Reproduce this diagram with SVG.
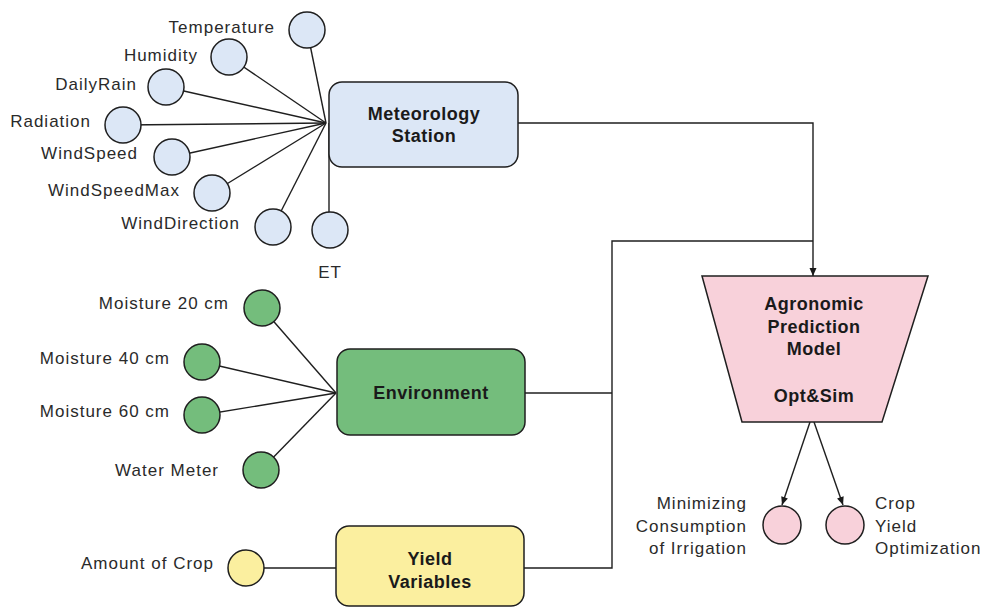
<svg xmlns="http://www.w3.org/2000/svg" width="984" height="608" viewBox="0 0 984 608">
<defs>
<marker id="arr" markerWidth="10" markerHeight="10" refX="9" refY="5" orient="auto" markerUnits="userSpaceOnUse">
<path d="M1,1.5 L9,5 L1,8.5 Z" fill="#1a1a1a"/>
</marker>
<style>
.bg{fill:#ffffff}
.ln{fill:none;stroke:#1f1f1f;stroke-width:1.4}
.nd{stroke:#1f1f1f;stroke-width:1.5}
.blue{fill:#dce7f6}
.green{fill:#74bd7c}
.yellow{fill:#fbef9f}
.pink{fill:#f8d1da}
.lbl{font-family:"Liberation Sans",Arial,sans-serif;font-size:17px;letter-spacing:1px;fill:#2a2a2a}
.end{text-anchor:end}
.bt{font-family:"Liberation Sans",Arial,sans-serif;font-size:18px;font-weight:bold;letter-spacing:0.5px;fill:#1a1a1a;text-anchor:middle}
</style>
</defs>
<rect class="bg" x="0" y="0" width="984" height="608"/>

<g id="connectors">
<line class="ln" x1="307" y1="30" x2="326" y2="123"/>
<line class="ln" x1="229" y1="57" x2="326" y2="123"/>
<line class="ln" x1="166" y1="87" x2="326" y2="123"/>
<line class="ln" x1="123" y1="125" x2="326" y2="123"/>
<line class="ln" x1="172" y1="157" x2="326" y2="123"/>
<line class="ln" x1="212" y1="193" x2="326" y2="123"/>
<line class="ln" x1="273" y1="227" x2="326" y2="123"/>
<line class="ln" x1="329" y1="230" x2="329" y2="123"/>
<line class="ln" x1="262" y1="308" x2="336" y2="393"/>
<line class="ln" x1="202" y1="362" x2="336" y2="393"/>
<line class="ln" x1="202" y1="415" x2="336" y2="393"/>
<line class="ln" x1="261" y1="470" x2="336" y2="393"/>
<line class="ln" x1="246" y1="568" x2="336" y2="568"/>
<polyline class="ln" points="518,123 813,123 813,276" marker-end="url(#arr)"/>
<line class="ln" x1="525" y1="393" x2="612" y2="393"/>
<polyline class="ln" points="524,568 612,568 612,241 813,241"/>
<line class="ln" x1="810" y1="422" x2="782" y2="505" marker-end="url(#arr)"/>
<line class="ln" x1="814" y1="422" x2="843" y2="505" marker-end="url(#arr)"/>
</g>

<g id="temperature"><circle class="nd blue" cx="307" cy="30" r="18"/><text class="lbl end" x="275" y="33">Temperature</text></g>
<g id="humidity"><circle class="nd blue" cx="229" cy="57" r="18"/><text class="lbl end" x="198" y="61">Humidity</text></g>
<g id="dailyrain"><circle class="nd blue" cx="166" cy="87" r="18"/><text class="lbl end" x="137" y="90">DailyRain</text></g>
<g id="radiation"><circle class="nd blue" cx="123" cy="125" r="18"/><text class="lbl end" x="91" y="127">Radiation</text></g>
<g id="windspeed"><circle class="nd blue" cx="172" cy="157" r="18"/><text class="lbl end" x="138" y="159">WindSpeed</text></g>
<g id="windspeedmax"><circle class="nd blue" cx="212" cy="193" r="18"/><text class="lbl end" x="180" y="196">WindSpeedMax</text></g>
<g id="winddirection"><circle class="nd blue" cx="273" cy="227" r="18"/><text class="lbl end" x="240" y="229">WindDirection</text></g>
<g id="et"><circle class="nd blue" cx="330" cy="230" r="18"/><text class="lbl" x="330" y="278" text-anchor="middle">ET</text></g>

<g id="meteorology"><rect class="nd blue" x="329" y="82" width="189" height="85" rx="13"/><text class="bt" x="424" y="120">Meteorology</text><text class="bt" x="424" y="142">Station</text></g>

<g id="moisture20"><circle class="nd green" cx="262" cy="308" r="18"/><text class="lbl end" x="229" y="309">Moisture 20 cm</text></g>
<g id="moisture40"><circle class="nd green" cx="202" cy="362" r="18"/><text class="lbl end" x="170" y="364">Moisture 40 cm</text></g>
<g id="moisture60"><circle class="nd green" cx="202" cy="415" r="18"/><text class="lbl end" x="170" y="417">Moisture 60 cm</text></g>
<g id="watermeter"><circle class="nd green" cx="261" cy="470" r="18"/><text class="lbl end" x="219" y="476">Water Meter</text></g>

<g id="environment"><rect class="nd green" x="337" y="349" width="188" height="86" rx="13"/><text class="bt" x="431" y="399">Environment</text></g>

<g id="amountofcrop"><circle class="nd yellow" cx="246" cy="568" r="18"/><text class="lbl end" x="214" y="569">Amount of Crop</text></g>

<g id="yield"><rect class="nd yellow" x="336" y="526" width="188" height="80" rx="13"/><text class="bt" x="430" y="565">Yield</text><text class="bt" x="430" y="588">Variables</text></g>

<g id="model"><polygon class="nd pink" points="702,276 928,276 882,422 742,422"/><text class="bt" x="814" y="310">Agronomic</text><text class="bt" x="814" y="333">Prediction</text><text class="bt" x="814" y="355">Model</text><text class="bt" x="814" y="402">Opt&amp;Sim</text></g>

<g id="minimizing"><circle class="nd pink" cx="782" cy="525" r="19"/><text class="lbl end" x="747" y="509">Minimizing</text><text class="lbl end" x="747" y="532">Consumption</text><text class="lbl end" x="747" y="554">of Irrigation</text></g>

<g id="cropyield"><circle class="nd pink" cx="845" cy="525" r="19"/><text class="lbl" x="875" y="509">Crop</text><text class="lbl" x="875" y="532">Yield</text><text class="lbl" x="875" y="554">Optimization</text></g>
</svg>
